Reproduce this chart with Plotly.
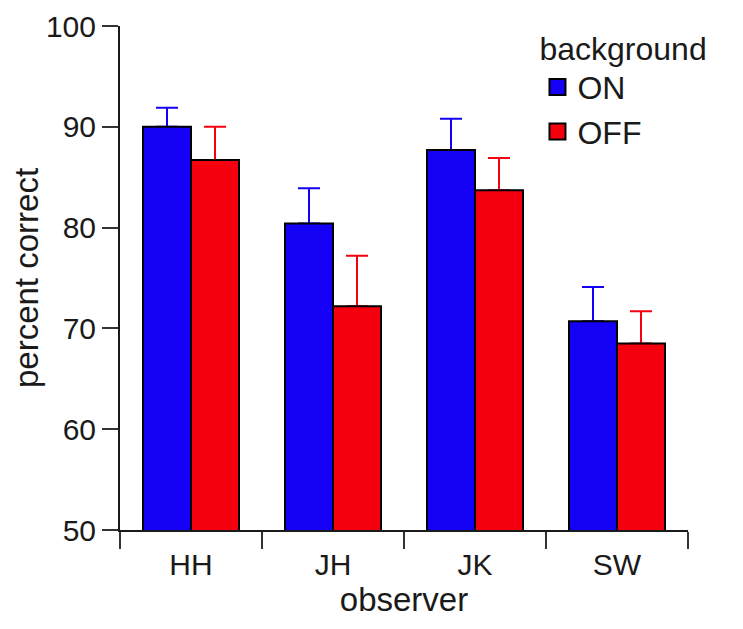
import plotly.graph_objects as go

observers = ["HH", "JH", "JK", "SW"]
on_values = [90.0, 80.4, 87.7, 70.7]
on_err = [1.9, 3.5, 3.1, 3.4]
off_values = [86.7, 72.2, 83.7, 68.5]
off_err = [3.3, 5.0, 3.2, 3.2]

BLUE = "#1400f5"
RED = "#f5000f"
FONT = "Liberation Sans, Arial, Helvetica, sans-serif"
TICK_FS = 30
TITLE_FS = 33
LEG_FS = 32

fig = go.Figure()

# error bars drawn under the bars (same offset groups), so the lower cap is hidden
for vals, err, col, grp in [(on_values, on_err, BLUE, "on"),
                            (off_values, off_err, RED, "off")]:
    fig.add_trace(go.Bar(
        x=observers, y=vals, offsetgroup=grp, showlegend=False, hoverinfo="skip",
        marker=dict(color="rgba(0,0,0,0)", line=dict(width=0)),
        error_y=dict(type="data", symmetric=False, array=err, arrayminus=[0] * len(err),
                     color=col, thickness=2, width=11),
    ))

for name, vals, col, grp in [("ON", on_values, BLUE, "on"),
                             ("OFF", off_values, RED, "off")]:
    fig.add_trace(go.Bar(
        x=observers, y=vals, name=name, offsetgroup=grp, showlegend=False,
        marker=dict(color=col, line=dict(color="black", width=2)),
    ))

# legend entries with larger square swatches
for name, col in [("ON", BLUE), ("OFF", RED)]:
    fig.add_trace(go.Scatter(
        x=[None], y=[None], mode="markers", name=name,
        marker=dict(symbol="square", size=30, color=col, line=dict(color="black", width=2)),
    ))

fig.update_layout(
    width=743, height=629,
    margin=dict(l=112, r=63, t=18, b=107, autoexpand=False),
    paper_bgcolor="white", plot_bgcolor="white",
    barmode="group", bargap=0.324, bargroupgap=0,
    font=dict(family=FONT, size=TICK_FS, color="#1a1a1a"),
    showlegend=True,
    legend=dict(
        title=dict(text="background", font=dict(size=LEG_FS), side="top"),
        x=0.735, y=0.984, xanchor="left", yanchor="top", yref="container",
        bgcolor="rgba(0,0,0,0)", font=dict(size=LEG_FS), itemwidth=30,
        itemsizing="trace", traceorder="normal", tracegroupgap=3,
    ),
    xaxis=dict(
        type="category", range=[-0.5, 3.5], tickson="boundaries", automargin=False,
        ticks="outside", ticklen=17, tickwidth=1.5, tickcolor="#333",
        ticklabelstandoff=7, ticklabeloverflow="allow",
        showline=True, linecolor="#1a1a1a", linewidth=2, showgrid=False,
        title=dict(text="observer", font=dict(size=TITLE_FS), standoff=0),
        tickfont=dict(size=TICK_FS),
    ),
    xaxis2=dict(
        overlaying="x", anchor="y", type="linear", range=[-0.5, 3.5], automargin=False,
        tickvals=[-0.5, 0.5, 1.5, 2.5, 3.5], ticks="inside", ticklen=16,
        tickwidth=1.5, tickcolor="#333", showticklabels=False, showgrid=False,
        showline=False, zeroline=False, side="bottom",
    ),
    yaxis=dict(
        range=[50, 100], tickvals=[50, 60, 70, 80, 90, 100], automargin=False,
        ticks="outside", ticklen=16, tickwidth=1.5, tickcolor="#333",
        ticklabeloverflow="allow",
        showline=True, linecolor="#1a1a1a", linewidth=2, showgrid=False,
        zeroline=False,
        title=dict(text="percent correct", font=dict(size=TITLE_FS), standoff=24),
        tickfont=dict(size=TICK_FS),
    ),
    yaxis2=dict(
        overlaying="y", anchor="x", side="left", range=[50, 100], automargin=False,
        tickvals=[50, 60, 70, 80, 90, 100], ticks="inside", ticklen=16,
        tickwidth=1.5, tickcolor="#333", showticklabels=False, showgrid=False,
        showline=False, zeroline=False,
        minor=dict(tickvals=[55, 65, 75, 85, 95], ticks="inside", ticklen=8,
                   tickwidth=1.5, tickcolor="#666"),
    ),
)

fig.write_html("out.html")
